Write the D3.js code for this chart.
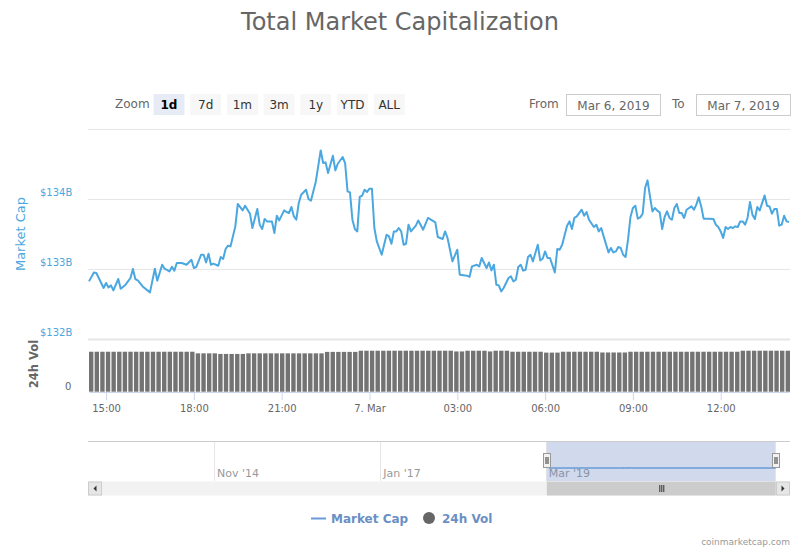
<!DOCTYPE html>
<html lang="en">
<head>
<meta charset="UTF-8"/>
<title>Total Market Capitalization</title>
<script src="https://d3js.org/d3.v7.min.js"></script>
<style>
body { margin: 0; background: #fff; }
svg { display: block; }
text { font-family: 'DejaVu Sans', sans-serif; }
.title { font-size: 24px; fill: #666; }
.zoom-label, .date-label { font-size: 12px; fill: #666; }
.btn-text { font-size: 12px; fill: #333; }
.btn-text.active { font-weight: bold; fill: #000; }
.date-text { font-size: 12px; fill: #666; }
.cap-label { font-size: 10px; fill: #4ba7e0; }
.axis-title { font-size: 13px; }
.vol-title { font-size: 11.5px; font-weight: bold; fill: #666; }
.x-axis text { font-size: 10px; fill: #666; }
.x-axis line, .x-axis path { stroke: #ccd6eb; }
.grid line { stroke: #e6e6e6; }
.grid path { stroke-width: 0; }
.nav-label { font-size: 11px; fill: #999; }
.legend-text { font-size: 12px; font-weight: bold; fill: #6a8fc5; }
.credits { font-size: 9px; fill: #999; }
</style>
</head>
<body>
<svg width="800" height="550"></svg>
<script>
// minutes relative to 7 Mar 2019 00:00 (negative = 6 Mar)
const minutes = [
  -575, -565, -560, -550, -545, -540, -535, -530, -525, -515, -510, -500, -490, -485, -480, -475, -465, -450,
  -440, -435, -425, -420, -410, -405, -400, -395, -385, -375, -365, -360, -355, -345, -340, -335, -330, -325,
  -320, -310, -305, -300, -295, -290, -285, -275, -270, -260, -255, -245, -240, -230, -225, -220, -215,
  -210, -200, -195, -190, -185, -175, -170, -165, -160, -155, -150, -145, -140, -130, -125, -120, -110, -100,
  -95, -90, -85, -75, -70, -65, -55, -50, -45, -40, -35, -30, -25, -20, -15, -10, -5, 0, 5, 10, 15, 25, 35,
  40, 45, 50, 55, 60, 65, 70, 75, 80, 85, 95, 100, 110, 120, 135, 140,
  150, 155, 160, 170, 180, 185, 200, 205, 210, 220, 225, 230, 240, 245, 250, 255, 260, 265, 270, 275, 285,
  290, 295, 300, 305, 310, 315, 320, 325, 330, 335, 345, 350, 355, 360, 365, 370, 380, 385, 390, 395, 405,
  410, 415, 420, 425, 435, 440, 445, 450, 460, 465, 470, 475, 480, 490, 495, 500,
  505, 510, 515, 520, 525, 530, 535, 540, 545, 550, 555, 560, 565, 570, 575, 580, 585, 590, 595, 600, 605,
  610, 615, 620, 625, 630, 635, 640, 645, 650, 660, 665, 670, 675, 680, 685, 695, 705, 710, 715, 720, 725,
  730, 735, 740, 745, 750, 755, 760, 765, 770, 775, 780, 785, 790, 795, 800, 810, 815, 820, 825, 830, 835,
  840, 845, 850, 855, 860
];

// total market cap, $ billions
const marketCap = [
  132.823, 132.951, 132.943, 132.800, 132.729, 132.800, 132.737, 132.766, 132.694, 132.857, 132.719, 132.776,
  132.871, 133.000, 132.857, 132.837, 132.751, 132.666, 133.004, 132.833, 133.061, 133.004, 132.966, 133.033,
  132.976, 133.086, 133.086, 133.061, 133.133, 133.014, 133.029, 133.204, 133.204, 133.094, 133.219, 133.061,
  133.076, 133.047, 133.171, 133.143, 133.286, 133.333, 133.323, 133.609, 133.929, 133.837, 133.904, 133.790,
  133.586, 133.857, 133.633, 133.571, 133.714,
  133.680, 133.680, 133.514, 133.761, 133.694, 133.837, 133.814, 133.800, 133.886, 133.751, 133.704, 133.943,
  134.061, 134.133, 134.000, 133.976, 134.251, 134.694, 134.514, 134.523, 134.371, 134.619, 134.409, 134.504,
  134.600, 134.514, 134.109, 134.094, 133.704, 133.571, 133.537, 134.029, 134.047, 134.133, 134.100, 134.147,
  134.147, 133.586, 133.394, 133.204, 133.490, 133.466, 133.361, 133.537, 133.537, 133.586, 133.537, 133.347,
  133.361, 133.633, 133.537, 133.619, 133.694, 133.561, 133.729, 133.666, 133.457,
  133.429, 133.537, 133.443, 133.109, 133.276, 132.919, 132.904, 132.886, 133.037, 133.061, 133.037, 133.157,
  133.014, 133.094, 132.980, 133.061, 132.776, 132.766, 132.680, 132.729, 132.871, 132.894, 132.823, 132.847,
  133.029, 133.061, 132.976, 132.990, 133.171, 133.204, 133.109, 133.347, 133.123, 133.147, 133.251, 133.157,
  133.157, 132.951, 133.286, 133.276, 133.347, 133.619, 133.680, 133.571, 133.729, 133.751, 133.847, 133.761,
  133.814, 133.704, 133.600, 133.633, 133.537, 133.586, 133.466, 133.237, 133.300, 133.237,
  133.251, 133.314, 133.300, 133.204, 133.171, 133.419, 133.743, 133.871, 133.904, 133.719, 133.737, 133.790,
  134.157, 134.266, 134.037, 133.823, 133.871, 133.833, 133.809, 133.571, 133.743, 133.823, 133.729, 133.704,
  133.871, 133.929, 133.800, 133.800, 133.729, 133.847, 133.894, 133.847, 133.919, 134.023, 133.894, 133.719,
  133.719, 133.714, 133.633, 133.600, 133.537, 133.443, 133.600, 133.571, 133.600, 133.586, 133.609, 133.600,
  133.680, 133.680, 133.633, 133.729, 133.957, 133.776, 133.714, 133.886, 133.837, 134.051, 133.904, 133.894,
  133.790, 133.857, 133.857, 133.619, 133.633, 133.761, 133.680, 133.671
];

// 24h volume per bar, $ billions
const volume = [
  27.3, 27.3, 27.3, 27.3, 27.3, 27.3, 27.3, 27.3, 27.3, 27.3, 27.3, 27.3, 27.3, 27.3, 27.3, 27.3, 27.3, 27.3, 27.3,
  26.2, 26.2, 26.2, 26.2, 25.8, 25.8, 25.8, 25.8, 25.8,
  26.2, 26.2, 26.2, 26.2, 26.2, 26.2, 26.2, 26.2, 26.2, 26.2, 26.2, 26.2, 26.2, 26.2,
  27.2, 27.2, 27.2, 27.2, 27.2, 27.2,
  28.0, 28.0, 28.0, 28.0, 28.0, 28.0, 28.0, 28.0, 28.0, 28.0, 28.0, 28.0, 28.0, 28.0, 28.0, 28.0, 28.0,
  27.5, 27.5, 28.0, 28.0, 28.0, 28.0, 27.5, 28.0, 28.0, 28.0,
  27.3, 27.3, 27.3, 27.3, 27.3, 27.3, 26.7, 26.7, 26.7,
  27.3, 27.3, 27.3, 27.3, 27.3, 27.3, 27.3, 26.8, 26.8, 26.8, 26.8, 26.8,
  27.3, 27.3, 27.3, 27.3, 27.3, 27.3, 27.3, 27.3, 27.3, 27.3, 27.3, 27.3, 27.3, 27.3, 27.3, 27.3, 27.3, 27.3, 27.3, 27.3,
  28.0, 28.0, 28.0, 28.0, 28.0, 28.0, 28.0, 28.0, 28.0
];

const capTicks = [132, 133, 134, 135];
const zoomButtons = ['1d', '7d', '1m', '3m', '1y', 'YTD', 'ALL'];
const dateRange = ['Mar 6, 2019', 'Mar 7, 2019'];
const navTicks = ['2014-11-01', '2017-01-01', '2019-03-01'];
const navDomain = ['2013-03-10', '2022-05-08'];
const navWindow = ['2019-03-06', '2022-03-01'];

const svg = d3.select('svg');
const left = 89, right = 789;
const capColor = '#4ba7e0';

const parseDay = d3.timeParse('%Y-%m-%d');
const points = minutes.map((m, i) => ({ t: new Date(2019, 2, 7, 0, m), v: marketCap[i] }));

// title
svg.append('text')
  .attr('class', 'title')
  .attr('x', 400)
  .attr('y', 30)
  .attr('text-anchor', 'middle')
  .text('Total Market Capitalization');

// range selector
svg.append('text')
  .attr('class', 'zoom-label')
  .attr('x', 115)
  .attr('y', 108)
  .text('Zoom');

const btn = svg.append('g').selectAll('g')
  .data(zoomButtons)
  .enter()
  .append('g')
  .attr('transform', (d, i) => `translate(${153.5 + i * 36.7}, 94)`);

btn.append('rect')
  .attr('width', 31)
  .attr('height', 21)
  .attr('fill', (d, i) => i === 0 ? '#e6ebf5' : '#f7f7f7');

btn.append('text')
  .attr('class', (d, i) => i === 0 ? 'btn-text active' : 'btn-text')
  .attr('x', 15.5)
  .attr('y', 15)
  .attr('text-anchor', 'middle')
  .text((d) => d);

svg.append('text').attr('class', 'date-label').attr('x', 529).attr('y', 108).text('From');
svg.append('text').attr('class', 'date-label').attr('x', 672).attr('y', 108).text('To');

const boxes = svg.append('g').selectAll('g')
  .data(dateRange)
  .enter()
  .append('g')
  .attr('transform', (d, i) => `translate(${i === 0 ? 566.5 : 696.5}, 94.5)`);

boxes.append('rect')
  .attr('width', 94)
  .attr('height', 21)
  .attr('fill', '#fff')
  .attr('stroke', '#ccc');

boxes.append('text')
  .attr('class', 'date-text')
  .attr('x', 47)
  .attr('y', 15)
  .attr('text-anchor', 'middle')
  .text((d) => d);

// scales
const x = d3.scaleTime()
  .domain(d3.extent(points, (d) => d.t))
  .range([left, right]);

const y = d3.scaleLinear()
  .domain([132, 135])
  .range([339, 129]);

const yVol = d3.scaleLinear()
  .domain([0, 36])
  .range([391.7, 339]);

const xBar = d3.scaleBand()
  .domain(d3.range(volume.length))
  .range([left, right + 1])
  .paddingInner(0.22)
  .paddingOuter(0);

// grid lines
svg.append('g')
  .attr('class', 'grid')
  .attr('transform', `translate(${left - 1}, 0)`)
  .call(d3.axisLeft(y)
    .tickValues(capTicks)
    .tickSize(-(right - left + 2))
    .tickFormat(''));

svg.select('.grid').selectAll('.tick')
  .filter((d) => d === 132)
  .select('line')
  .attr('stroke-width', 2);

// y labels
svg.append('g').selectAll('text')
  .data(capTicks.slice(0, 3))
  .enter()
  .append('text')
  .attr('class', 'cap-label')
  .attr('x', 40)
  .attr('y', (d) => y(d) - 3)
  .text((d) => `$${d}B`);

svg.append('text')
  .attr('class', 'axis-title')
  .attr('transform', 'translate(25, 234) rotate(-90)')
  .attr('text-anchor', 'middle')
  .attr('fill', capColor)
  .text('Market Cap');

svg.append('text')
  .attr('class', 'vol-title')
  .attr('transform', 'translate(38, 364) rotate(-90)')
  .attr('text-anchor', 'middle')
  .text('24h Vol');

svg.append('text')
  .attr('class', 'cap-label')
  .attr('x', 65)
  .attr('y', yVol(0) - 2)
  .style('fill', '#666')
  .text('0');

// volume bars
svg.append('g').selectAll('rect')
  .data(volume)
  .enter()
  .append('rect')
  .attr('x', (d, i) => xBar(i))
  .attr('y', (d) => yVol(d))
  .attr('width', xBar.bandwidth())
  .attr('height', (d) => yVol(0) - yVol(d))
  .attr('fill', '#737373');

// x axis
const fmtTick = (d) => d.getHours() === 0 ? d3.timeFormat('%-d. %b')(d) : d3.timeFormat('%H:%M')(d);

svg.append('g')
  .attr('class', 'x-axis')
  .attr('transform', 'translate(0, 392)')
  .call(d3.axisBottom(x)
    .ticks(d3.timeHour.every(3))
    .tickFormat(fmtTick)
    .tickSize(8)
    .tickSizeOuter(0)
    .tickPadding(5));

// market cap line
svg.append('path')
  .datum(points)
  .attr('fill', 'none')
  .attr('stroke', capColor)
  .attr('stroke-width', 2)
  .attr('stroke-linejoin', 'round')
  .attr('d', d3.line().x((d) => x(d.t)).y((d) => y(d.v)));

// navigator
const navX = d3.scaleTime()
  .domain(navDomain.map(parseDay))
  .range([88, 790]);

const nav = svg.append('g');

nav.append('g').selectAll('line')
  .data(navTicks.map(parseDay))
  .enter()
  .append('line')
  .attr('x1', (d) => Math.round(navX(d)) + 0.5)
  .attr('x2', (d) => Math.round(navX(d)) + 0.5)
  .attr('y1', 441)
  .attr('y2', 481)
  .attr('stroke', '#e6e6e6');

nav.append('g').selectAll('text')
  .data(navTicks.map(parseDay))
  .enter()
  .append('text')
  .attr('class', 'nav-label')
  .attr('x', (d) => navX(d) + 3)
  .attr('y', 477)
  .text(d3.timeFormat("%b '%y"));

const w0 = navX(parseDay(navWindow[0]));
const w1 = navX(parseDay(navWindow[1]));

nav.append('rect')
  .attr('x', w0)
  .attr('y', 441)
  .attr('width', w1 - w0)
  .attr('height', 40)
  .attr('fill', 'rgba(102,133,194,0.3)');

const navLineX = d3.scaleTime().domain(x.domain()).range([w0 + 2, w1]);
const navY = d3.scaleLinear().domain([0, 410]).range([481, 441]);

nav.append('path')
  .datum(points)
  .attr('fill', 'none')
  .attr('stroke', '#6a9bd8')
  .attr('stroke-width', 1.5)
  .attr('d', d3.line().x((d) => navLineX(d.t)).y((d) => navY(d.v)));

nav.append('line')
  .attr('x1', 88).attr('x2', 790)
  .attr('y1', 441.5).attr('y2', 441.5)
  .attr('stroke', '#ccc');

const handles = nav.append('g').selectAll('g')
  .data([w0, w1])
  .enter()
  .append('g')
  .attr('transform', (d) => `translate(${Math.round(d) - 3.5}, 453.5)`);

handles.append('rect')
  .attr('width', 7)
  .attr('height', 14)
  .attr('fill', '#f2f2f2')
  .attr('stroke', '#999');

handles.selectAll('line')
  .data([2.5, 4.5])
  .enter()
  .append('line')
  .attr('x1', (d) => d).attr('x2', (d) => d)
  .attr('y1', 3.5).attr('y2', 10.5)
  .attr('stroke', '#333');

// scrollbar
const sb = svg.append('g');
sb.append('rect').attr('x', 88).attr('y', 481.5).attr('width', 702).attr('height', 14).attr('fill', '#f2f2f2');
sb.append('rect').attr('x', w0).attr('y', 481.5).attr('width', w1 - w0).attr('height', 14).attr('fill', '#cccccc');
sb.selectAll('.grip')
  .data([-2, 0, 2])
  .enter()
  .append('line')
  .attr('x1', (d) => (w0 + w1) / 2 + d + 0.5)
  .attr('x2', (d) => (w0 + w1) / 2 + d + 0.5)
  .attr('y1', 485)
  .attr('y2', 492)
  .attr('stroke', '#333');

[88.5, 776.5].forEach((bx, i) => {
  sb.append('rect')
    .attr('x', bx).attr('y', 482)
    .attr('width', 13).attr('height', 13)
    .attr('fill', '#e6e6e6')
    .attr('stroke', '#ccc');
  const cx = bx + 6.5;
  const pts = i === 0
    ? [[cx + 1.5, 485.5], [cx - 1.5, 488.5], [cx + 1.5, 491.5]]
    : [[cx - 1.5, 485.5], [cx + 1.5, 488.5], [cx - 1.5, 491.5]];
  sb.append('path')
    .attr('d', d3.line()(pts) + 'Z')
    .attr('fill', '#333');
});

// legend
const lg = svg.append('g');
lg.append('line')
  .attr('x1', 311).attr('x2', 326)
  .attr('y1', 518.5).attr('y2', 518.5)
  .attr('stroke', '#6a9bd8')
  .attr('stroke-width', 2);
lg.append('text').attr('class', 'legend-text').attr('x', 331).attr('y', 523).text('Market Cap');
lg.append('circle').attr('cx', 429).attr('cy', 518).attr('r', 6).attr('fill', '#666');
lg.append('text').attr('class', 'legend-text').attr('x', 442).attr('y', 523).text('24h Vol');

// credits
svg.append('text')
  .attr('class', 'credits')
  .attr('x', 790)
  .attr('y', 545)
  .attr('text-anchor', 'end')
  .text('coinmarketcap.com');
</script>
</body>
</html>
